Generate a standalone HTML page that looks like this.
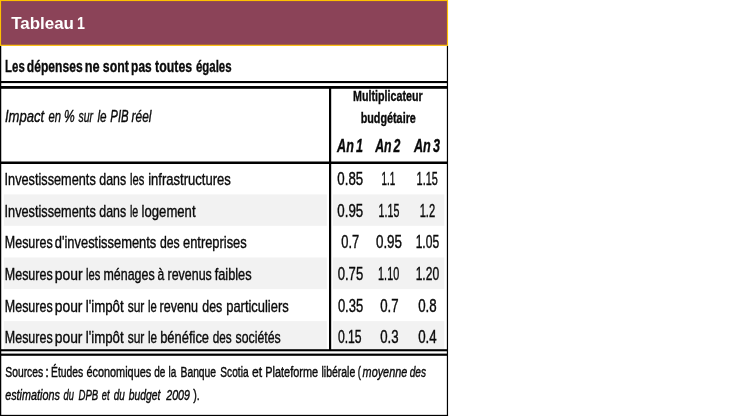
<!DOCTYPE html>
<html lang="fr"><head><meta charset="utf-8"><title>Tableau 1</title>
<style>
html,body{margin:0;padding:0;background:#fff;}
svg{display:block;}
text{font-family:"Liberation Sans",sans-serif;}
</style></head><body>
<svg width="750" height="416" viewBox="0 0 750 416">
<rect x="0" y="0" width="750" height="416" fill="#fff"/>

<rect x="3.8" y="194.4" width="323" height="31.400000000000006" fill="#f2f2f2"/>
<rect x="332.8" y="194.4" width="111.5" height="31.400000000000006" fill="#f2f2f2"/>
<rect x="3.8" y="257.5" width="323" height="31.600000000000023" fill="#f2f2f2"/>
<rect x="332.8" y="257.5" width="111.5" height="31.600000000000023" fill="#f2f2f2"/>
<rect x="3.8" y="321.1" width="323" height="28.399999999999977" fill="#f2f2f2"/>
<rect x="332.8" y="321.1" width="111.5" height="28.399999999999977" fill="#f2f2f2"/>
<rect x="0" y="45.5" width="1.25" height="371" fill="#000"/>
<rect x="446.85" y="45.5" width="1.2" height="371" fill="#000"/>
<rect x="0" y="414.85" width="448.05" height="1.15" fill="#000"/>
<rect x="0.5" y="0.5" width="447" height="44.8" fill="#8b4358" stroke="#ffc000" stroke-width="1.15"/>
<rect x="1" y="81" width="446" height="2.1" fill="#000"/>
<rect x="1" y="86.0" width="446" height="2.8" fill="#000"/>
<rect x="1" y="161.5" width="446" height="2.5" fill="#000"/>
<rect x="1" y="349.2" width="446" height="2.1" fill="#000"/>
<rect x="1" y="353.6" width="446" height="2.2" fill="#000"/>
<rect x="329" y="87" width="2.2" height="263" fill="#000"/>
<text id="title" x="11.15" y="28.7" font-size="16.3" font-weight="bold" font-style="normal" fill="#fff" stroke="#fff" stroke-width="0" word-spacing="-2" textLength="62.83" lengthAdjust="spacingAndGlyphs">Tableau</text>
<text id="title1" x="77.06" y="28.7" font-size="16.3" font-weight="bold" font-style="normal" fill="#fff" stroke="#fff" stroke-width="0" word-spacing="-2" textLength="7.89" lengthAdjust="spacingAndGlyphs">1</text>
<text id="mult" x="353.10" y="101.1" font-size="14.5" font-weight="bold" font-style="normal" fill="#0a0a0a" stroke="#0a0a0a" stroke-width="0.35" word-spacing="-2" textLength="69.50" lengthAdjust="spacingAndGlyphs">Multiplicateur</text>
<text id="budg" x="360.64" y="123.3" font-size="14.5" font-weight="bold" font-style="normal" fill="#0a0a0a" stroke="#0a0a0a" stroke-width="0.35" word-spacing="-2" textLength="55.21" lengthAdjust="spacingAndGlyphs">budgétaire</text>
<text id="an1" x="337.10" y="151.7" font-size="18.2" font-weight="bold" font-style="italic" fill="#0a0a0a" stroke="#0a0a0a" stroke-width="0.35" word-spacing="-2" textLength="25.90" lengthAdjust="spacingAndGlyphs">An 1</text>
<text id="an2" x="375.15" y="151.7" font-size="18.2" font-weight="bold" font-style="italic" fill="#0a0a0a" stroke="#0a0a0a" stroke-width="0.35" word-spacing="-2" textLength="25.31" lengthAdjust="spacingAndGlyphs">An 2</text>
<text id="an3" x="413.99" y="151.7" font-size="18.2" font-weight="bold" font-style="italic" fill="#0a0a0a" stroke="#0a0a0a" stroke-width="0.35" word-spacing="-2" textLength="26.01" lengthAdjust="spacingAndGlyphs">An 3</text>
<text id="sub_0" x="5.11" y="71.5" font-size="17" font-weight="bold" font-style="normal" fill="#0a0a0a" stroke="#0a0a0a" stroke-width="0.35" word-spacing="-2" textLength="19.61" lengthAdjust="spacingAndGlyphs">Les</text>
<text id="sub_1" x="26.85" y="71.5" font-size="17" font-weight="bold" font-style="normal" fill="#0a0a0a" stroke="#0a0a0a" stroke-width="0.35" word-spacing="-2" textLength="55.76" lengthAdjust="spacingAndGlyphs">dépenses</text>
<text id="sub_2" x="84.68" y="71.5" font-size="17" font-weight="bold" font-style="normal" fill="#0a0a0a" stroke="#0a0a0a" stroke-width="0.35" word-spacing="-2" textLength="14.94" lengthAdjust="spacingAndGlyphs">ne</text>
<text id="sub_3" x="102.84" y="71.5" font-size="17" font-weight="bold" font-style="normal" fill="#0a0a0a" stroke="#0a0a0a" stroke-width="0.35" word-spacing="-2" textLength="26.01" lengthAdjust="spacingAndGlyphs">sont</text>
<text id="sub_4" x="131.11" y="71.5" font-size="17" font-weight="bold" font-style="normal" fill="#0a0a0a" stroke="#0a0a0a" stroke-width="0.35" word-spacing="-2" textLength="20.52" lengthAdjust="spacingAndGlyphs">pas</text>
<text id="sub_5" x="155.10" y="71.5" font-size="17" font-weight="bold" font-style="normal" fill="#0a0a0a" stroke="#0a0a0a" stroke-width="0.35" word-spacing="-2" textLength="37.01" lengthAdjust="spacingAndGlyphs">toutes</text>
<text id="sub_6" x="195.94" y="71.5" font-size="17" font-weight="bold" font-style="normal" fill="#0a0a0a" stroke="#0a0a0a" stroke-width="0.35" word-spacing="-2" textLength="35.67" lengthAdjust="spacingAndGlyphs">égales</text>
<text id="imp_0" x="4.90" y="122.2" font-size="17.3" font-weight="normal" font-style="italic" fill="#0a0a0a" stroke="#0a0a0a" stroke-width="0.4" word-spacing="-1.5" textLength="39.20" lengthAdjust="spacingAndGlyphs">Impact</text>
<text id="imp_1" x="48.58" y="122.2" font-size="17.3" font-weight="normal" font-style="italic" fill="#0a0a0a" stroke="#0a0a0a" stroke-width="0.4" word-spacing="-1.5" textLength="12.54" lengthAdjust="spacingAndGlyphs">en</text>
<text id="imp_2" x="64.04" y="122.2" font-size="17.3" font-weight="normal" font-style="italic" fill="#0a0a0a" stroke="#0a0a0a" stroke-width="0.4" word-spacing="-1.5" textLength="10.70" lengthAdjust="spacingAndGlyphs">%</text>
<text id="imp_3" x="78.44" y="122.2" font-size="17.3" font-weight="normal" font-style="italic" fill="#0a0a0a" stroke="#0a0a0a" stroke-width="0.4" word-spacing="-1.5" textLength="14.57" lengthAdjust="spacingAndGlyphs">sur</text>
<text id="imp_4" x="97.50" y="122.2" font-size="17.3" font-weight="normal" font-style="italic" fill="#0a0a0a" stroke="#0a0a0a" stroke-width="0.4" word-spacing="-1.5" textLength="9.16" lengthAdjust="spacingAndGlyphs">le</text>
<text id="imp_5" x="110.29" y="122.2" font-size="17.3" font-weight="normal" font-style="italic" fill="#0a0a0a" stroke="#0a0a0a" stroke-width="0.4" word-spacing="-1.5" textLength="18.37" lengthAdjust="spacingAndGlyphs">PIB</text>
<text id="imp_6" x="131.60" y="122.2" font-size="17.3" font-weight="normal" font-style="italic" fill="#0a0a0a" stroke="#0a0a0a" stroke-width="0.4" word-spacing="-1.5" textLength="19.81" lengthAdjust="spacingAndGlyphs">réel</text>
<text id="r1_0" x="4.58" y="184.7" font-size="17" font-weight="normal" font-style="normal" fill="#0a0a0a" stroke="#0a0a0a" stroke-width="0.4" word-spacing="-1.5" textLength="91.17" lengthAdjust="spacingAndGlyphs">Investissements</text>
<text id="r1_1" x="99.34" y="184.7" font-size="17" font-weight="normal" font-style="normal" fill="#0a0a0a" stroke="#0a0a0a" stroke-width="0.4" word-spacing="-1.5" textLength="26.82" lengthAdjust="spacingAndGlyphs">dans</text>
<text id="r1_2" x="129.97" y="184.7" font-size="17" font-weight="normal" font-style="normal" fill="#0a0a0a" stroke="#0a0a0a" stroke-width="0.4" word-spacing="-1.5" textLength="14.29" lengthAdjust="spacingAndGlyphs">les</text>
<text id="r1_3" x="148.19" y="184.7" font-size="17" font-weight="normal" font-style="normal" fill="#0a0a0a" stroke="#0a0a0a" stroke-width="0.4" word-spacing="-1.5" textLength="82.61" lengthAdjust="spacingAndGlyphs">infrastructures</text>
<text id="r2_0" x="4.58" y="216.7" font-size="17" font-weight="normal" font-style="normal" fill="#0a0a0a" stroke="#0a0a0a" stroke-width="0.4" word-spacing="-1.5" textLength="91.17" lengthAdjust="spacingAndGlyphs">Investissements</text>
<text id="r2_1" x="99.34" y="216.7" font-size="17" font-weight="normal" font-style="normal" fill="#0a0a0a" stroke="#0a0a0a" stroke-width="0.4" word-spacing="-1.5" textLength="26.82" lengthAdjust="spacingAndGlyphs">dans</text>
<text id="r2_2" x="129.94" y="216.7" font-size="17" font-weight="normal" font-style="normal" fill="#0a0a0a" stroke="#0a0a0a" stroke-width="0.4" word-spacing="-1.5" textLength="8.33" lengthAdjust="spacingAndGlyphs">le</text>
<text id="r2_3" x="141.59" y="216.7" font-size="17" font-weight="normal" font-style="normal" fill="#0a0a0a" stroke="#0a0a0a" stroke-width="0.4" word-spacing="-1.5" textLength="53.96" lengthAdjust="spacingAndGlyphs">logement</text>
<text id="r3_0" x="4.83" y="247.8" font-size="17" font-weight="normal" font-style="normal" fill="#0a0a0a" stroke="#0a0a0a" stroke-width="0.4" word-spacing="-1.5" textLength="47.78" lengthAdjust="spacingAndGlyphs">Mesures</text>
<text id="r3_1" x="54.80" y="247.8" font-size="17" font-weight="normal" font-style="normal" fill="#0a0a0a" stroke="#0a0a0a" stroke-width="0.4" word-spacing="-1.5" textLength="101.50" lengthAdjust="spacingAndGlyphs">d&#39;investissements</text>
<text id="r3_2" x="159.88" y="247.8" font-size="17" font-weight="normal" font-style="normal" fill="#0a0a0a" stroke="#0a0a0a" stroke-width="0.4" word-spacing="-1.5" textLength="19.73" lengthAdjust="spacingAndGlyphs">des</text>
<text id="r3_3" x="182.99" y="247.8" font-size="17" font-weight="normal" font-style="normal" fill="#0a0a0a" stroke="#0a0a0a" stroke-width="0.4" word-spacing="-1.5" textLength="63.71" lengthAdjust="spacingAndGlyphs">entreprises</text>
<text id="r4_0" x="4.83" y="279.5" font-size="17" font-weight="normal" font-style="normal" fill="#0a0a0a" stroke="#0a0a0a" stroke-width="0.4" word-spacing="-1.5" textLength="47.78" lengthAdjust="spacingAndGlyphs">Mesures</text>
<text id="r4_1" x="54.73" y="279.5" font-size="17" font-weight="normal" font-style="normal" fill="#0a0a0a" stroke="#0a0a0a" stroke-width="0.4" word-spacing="-1.5" textLength="27.82" lengthAdjust="spacingAndGlyphs">pour</text>
<text id="r4_2" x="86.07" y="279.5" font-size="17" font-weight="normal" font-style="normal" fill="#0a0a0a" stroke="#0a0a0a" stroke-width="0.4" word-spacing="-1.5" textLength="14.26" lengthAdjust="spacingAndGlyphs">les</text>
<text id="r4_3" x="103.54" y="279.5" font-size="17" font-weight="normal" font-style="normal" fill="#0a0a0a" stroke="#0a0a0a" stroke-width="0.4" word-spacing="-1.5" textLength="51.07" lengthAdjust="spacingAndGlyphs">ménages</text>
<text id="r4_4" x="157.44" y="279.5" font-size="17" font-weight="normal" font-style="normal" fill="#0a0a0a" stroke="#0a0a0a" stroke-width="0.4" word-spacing="-1.5" textLength="6.76" lengthAdjust="spacingAndGlyphs">à</text>
<text id="r4_5" x="167.54" y="279.5" font-size="17" font-weight="normal" font-style="normal" fill="#0a0a0a" stroke="#0a0a0a" stroke-width="0.4" word-spacing="-1.5" textLength="44.27" lengthAdjust="spacingAndGlyphs">revenus</text>
<text id="r4_6" x="214.65" y="279.5" font-size="17" font-weight="normal" font-style="normal" fill="#0a0a0a" stroke="#0a0a0a" stroke-width="0.4" word-spacing="-1.5" textLength="36.96" lengthAdjust="spacingAndGlyphs">faibles</text>
<text id="r5_0" x="4.83" y="311.5" font-size="17" font-weight="normal" font-style="normal" fill="#0a0a0a" stroke="#0a0a0a" stroke-width="0.4" word-spacing="-1.5" textLength="47.78" lengthAdjust="spacingAndGlyphs">Mesures</text>
<text id="r5_1" x="54.78" y="311.5" font-size="17" font-weight="normal" font-style="normal" fill="#0a0a0a" stroke="#0a0a0a" stroke-width="0.4" word-spacing="-1.5" textLength="27.72" lengthAdjust="spacingAndGlyphs">pour</text>
<text id="r5_2" x="85.74" y="311.5" font-size="17" font-weight="normal" font-style="normal" fill="#0a0a0a" stroke="#0a0a0a" stroke-width="0.4" word-spacing="-1.5" textLength="37.91" lengthAdjust="spacingAndGlyphs">l&#39;impôt</text>
<text id="r5_3" x="127.65" y="311.5" font-size="17" font-weight="normal" font-style="normal" fill="#0a0a0a" stroke="#0a0a0a" stroke-width="0.4" word-spacing="-1.5" textLength="16.70" lengthAdjust="spacingAndGlyphs">sur</text>
<text id="r5_4" x="147.94" y="311.5" font-size="17" font-weight="normal" font-style="normal" fill="#0a0a0a" stroke="#0a0a0a" stroke-width="0.4" word-spacing="-1.5" textLength="8.80" lengthAdjust="spacingAndGlyphs">le</text>
<text id="r5_5" x="159.53" y="311.5" font-size="17" font-weight="normal" font-style="normal" fill="#0a0a0a" stroke="#0a0a0a" stroke-width="0.4" word-spacing="-1.5" textLength="38.44" lengthAdjust="spacingAndGlyphs">revenu</text>
<text id="r5_6" x="202.29" y="311.5" font-size="17" font-weight="normal" font-style="normal" fill="#0a0a0a" stroke="#0a0a0a" stroke-width="0.4" word-spacing="-1.5" textLength="19.97" lengthAdjust="spacingAndGlyphs">des</text>
<text id="r5_7" x="226.24" y="311.5" font-size="17" font-weight="normal" font-style="normal" fill="#0a0a0a" stroke="#0a0a0a" stroke-width="0.4" word-spacing="-1.5" textLength="62.42" lengthAdjust="spacingAndGlyphs">particuliers</text>
<text id="r6_0" x="4.83" y="342.5" font-size="17" font-weight="normal" font-style="normal" fill="#0a0a0a" stroke="#0a0a0a" stroke-width="0.4" word-spacing="-1.5" textLength="47.78" lengthAdjust="spacingAndGlyphs">Mesures</text>
<text id="r6_1" x="54.78" y="342.5" font-size="17" font-weight="normal" font-style="normal" fill="#0a0a0a" stroke="#0a0a0a" stroke-width="0.4" word-spacing="-1.5" textLength="27.72" lengthAdjust="spacingAndGlyphs">pour</text>
<text id="r6_2" x="85.74" y="342.5" font-size="17" font-weight="normal" font-style="normal" fill="#0a0a0a" stroke="#0a0a0a" stroke-width="0.4" word-spacing="-1.5" textLength="37.91" lengthAdjust="spacingAndGlyphs">l&#39;impôt</text>
<text id="r6_3" x="127.65" y="342.5" font-size="17" font-weight="normal" font-style="normal" fill="#0a0a0a" stroke="#0a0a0a" stroke-width="0.4" word-spacing="-1.5" textLength="16.70" lengthAdjust="spacingAndGlyphs">sur</text>
<text id="r6_4" x="147.93" y="342.5" font-size="17" font-weight="normal" font-style="normal" fill="#0a0a0a" stroke="#0a0a0a" stroke-width="0.4" word-spacing="-1.5" textLength="9.16" lengthAdjust="spacingAndGlyphs">le</text>
<text id="r6_5" x="160.18" y="342.5" font-size="17" font-weight="normal" font-style="normal" fill="#0a0a0a" stroke="#0a0a0a" stroke-width="0.4" word-spacing="-1.5" textLength="48.87" lengthAdjust="spacingAndGlyphs">bénéfice</text>
<text id="r6_6" x="212.74" y="342.5" font-size="17" font-weight="normal" font-style="normal" fill="#0a0a0a" stroke="#0a0a0a" stroke-width="0.4" word-spacing="-1.5" textLength="18.97" lengthAdjust="spacingAndGlyphs">des</text>
<text id="r6_7" x="235.60" y="342.5" font-size="17" font-weight="normal" font-style="normal" fill="#0a0a0a" stroke="#0a0a0a" stroke-width="0.4" word-spacing="-1.5" textLength="45.15" lengthAdjust="spacingAndGlyphs">sociétés</text>
<text id="s1_0" x="5.29" y="377" font-size="14" font-weight="normal" font-style="normal" fill="#0a0a0a" stroke="#0a0a0a" stroke-width="0.4" word-spacing="-1.5" textLength="37.91" lengthAdjust="spacingAndGlyphs">Sources</text>
<text id="s1_1" x="45.28" y="377" font-size="14" font-weight="normal" font-style="normal" fill="#0a0a0a" stroke="#0a0a0a" stroke-width="0.4" word-spacing="-1.5" textLength="3.60" lengthAdjust="spacingAndGlyphs">:</text>
<text id="s1_2" x="51.08" y="377" font-size="14" font-weight="normal" font-style="normal" fill="#0a0a0a" stroke="#0a0a0a" stroke-width="0.4" word-spacing="-1.5" textLength="32.12" lengthAdjust="spacingAndGlyphs">Études</text>
<text id="s1_3" x="86.40" y="377" font-size="14" font-weight="normal" font-style="normal" fill="#0a0a0a" stroke="#0a0a0a" stroke-width="0.4" word-spacing="-1.5" textLength="64.81" lengthAdjust="spacingAndGlyphs">économiques</text>
<text id="s1_4" x="154.18" y="377" font-size="14" font-weight="normal" font-style="normal" fill="#0a0a0a" stroke="#0a0a0a" stroke-width="0.4" word-spacing="-1.5" textLength="11.08" lengthAdjust="spacingAndGlyphs">de</text>
<text id="s1_5" x="168.48" y="377" font-size="14" font-weight="normal" font-style="normal" fill="#0a0a0a" stroke="#0a0a0a" stroke-width="0.4" word-spacing="-1.5" textLength="7.76" lengthAdjust="spacingAndGlyphs">la</text>
<text id="s1_6" x="180.53" y="377" font-size="14" font-weight="normal" font-style="normal" fill="#0a0a0a" stroke="#0a0a0a" stroke-width="0.4" word-spacing="-1.5" textLength="35.57" lengthAdjust="spacingAndGlyphs">Banque</text>
<text id="s1_7" x="220.35" y="377" font-size="14" font-weight="normal" font-style="normal" fill="#0a0a0a" stroke="#0a0a0a" stroke-width="0.4" word-spacing="-1.5" textLength="28.20" lengthAdjust="spacingAndGlyphs">Scotia</text>
<text id="s1_8" x="251.93" y="377" font-size="14" font-weight="normal" font-style="normal" fill="#0a0a0a" stroke="#0a0a0a" stroke-width="0.4" word-spacing="-1.5" textLength="10.11" lengthAdjust="spacingAndGlyphs">et</text>
<text id="s1_9" x="265.28" y="377" font-size="14" font-weight="normal" font-style="normal" fill="#0a0a0a" stroke="#0a0a0a" stroke-width="0.4" word-spacing="-1.5" textLength="52.83" lengthAdjust="spacingAndGlyphs">Plateforme</text>
<text id="s1_10" x="321.49" y="377" font-size="14" font-weight="normal" font-style="normal" fill="#0a0a0a" stroke="#0a0a0a" stroke-width="0.4" word-spacing="-1.5" textLength="33.77" lengthAdjust="spacingAndGlyphs">libérale</text>
<text id="s1_11" x="357.82" y="377" font-size="14" font-weight="normal" font-style="normal" fill="#0a0a0a" stroke="#0a0a0a" stroke-width="0.4" word-spacing="-1.5" textLength="3.18" lengthAdjust="spacingAndGlyphs">(</text>
<text id="s1i_0" x="362.60" y="377" font-size="14" font-weight="normal" font-style="italic" fill="#0a0a0a" stroke="#0a0a0a" stroke-width="0.4" word-spacing="-1.5" textLength="44.65" lengthAdjust="spacingAndGlyphs">moyenne</text>
<text id="s1i_1" x="409.70" y="377" font-size="14" font-weight="normal" font-style="italic" fill="#0a0a0a" stroke="#0a0a0a" stroke-width="0.4" word-spacing="-1.5" textLength="16.30" lengthAdjust="spacingAndGlyphs">des</text>
<text id="s2i_0" x="5.15" y="400.3" font-size="14" font-weight="normal" font-style="italic" fill="#0a0a0a" stroke="#0a0a0a" stroke-width="0.4" word-spacing="-1.5" textLength="54.70" lengthAdjust="spacingAndGlyphs">estimations</text>
<text id="s2i_1" x="63.60" y="400.3" font-size="14" font-weight="normal" font-style="italic" fill="#0a0a0a" stroke="#0a0a0a" stroke-width="0.4" word-spacing="-1.5" textLength="10.40" lengthAdjust="spacingAndGlyphs">du</text>
<text id="s2i_2" x="78.60" y="400.3" font-size="14" font-weight="normal" font-style="italic" fill="#0a0a0a" stroke="#0a0a0a" stroke-width="0.4" word-spacing="-1.5" textLength="19.66" lengthAdjust="spacingAndGlyphs">DPB</text>
<text id="s2i_3" x="101.76" y="400.3" font-size="14" font-weight="normal" font-style="italic" fill="#0a0a0a" stroke="#0a0a0a" stroke-width="0.4" word-spacing="-1.5" textLength="7.76" lengthAdjust="spacingAndGlyphs">et</text>
<text id="s2i_4" x="113.74" y="400.3" font-size="14" font-weight="normal" font-style="italic" fill="#0a0a0a" stroke="#0a0a0a" stroke-width="0.4" word-spacing="-1.5" textLength="11.11" lengthAdjust="spacingAndGlyphs">du</text>
<text id="s2i_5" x="128.85" y="400.3" font-size="14" font-weight="normal" font-style="italic" fill="#0a0a0a" stroke="#0a0a0a" stroke-width="0.4" word-spacing="-1.5" textLength="31.66" lengthAdjust="spacingAndGlyphs">budget</text>
<text id="s2i_6" x="166.25" y="400.3" font-size="14" font-weight="normal" font-style="italic" fill="#0a0a0a" stroke="#0a0a0a" stroke-width="0.4" word-spacing="-1.5" textLength="23.75" lengthAdjust="spacingAndGlyphs">2009</text>
<text id="s2_0" x="193.27" y="400.3" font-size="14" font-weight="normal" font-style="normal" fill="#0a0a0a" stroke="#0a0a0a" stroke-width="0.4" word-spacing="-1.5" textLength="6.55" lengthAdjust="spacingAndGlyphs">).</text>
<text id="n00" x="337.34" y="185" font-size="17.6" font-weight="normal" font-style="normal" fill="#0a0a0a" stroke="#0a0a0a" stroke-width="0.4" word-spacing="-1.5" textLength="25.82" lengthAdjust="spacingAndGlyphs">0.85</text>
<text id="n01" x="381.46" y="185" font-size="17.6" font-weight="normal" font-style="normal" fill="#0a0a0a" stroke="#0a0a0a" stroke-width="0.4" word-spacing="-1.5" textLength="13.71" lengthAdjust="spacingAndGlyphs">1.1</text>
<text id="n02" x="416.58" y="185" font-size="17.6" font-weight="normal" font-style="normal" fill="#0a0a0a" stroke="#0a0a0a" stroke-width="0.4" word-spacing="-1.5" textLength="21.19" lengthAdjust="spacingAndGlyphs">1.15</text>
<text id="n10" x="337.34" y="216.7" font-size="17.6" font-weight="normal" font-style="normal" fill="#0a0a0a" stroke="#0a0a0a" stroke-width="0.4" word-spacing="-1.5" textLength="25.82" lengthAdjust="spacingAndGlyphs">0.95</text>
<text id="n11" x="378.62" y="216.7" font-size="17.6" font-weight="normal" font-style="normal" fill="#0a0a0a" stroke="#0a0a0a" stroke-width="0.4" word-spacing="-1.5" textLength="20.70" lengthAdjust="spacingAndGlyphs">1.15</text>
<text id="n12" x="419.65" y="216.7" font-size="17.6" font-weight="normal" font-style="normal" fill="#0a0a0a" stroke="#0a0a0a" stroke-width="0.4" word-spacing="-1.5" textLength="15.54" lengthAdjust="spacingAndGlyphs">1.2</text>
<text id="n20" x="341.24" y="247.8" font-size="17.6" font-weight="normal" font-style="normal" fill="#0a0a0a" stroke="#0a0a0a" stroke-width="0.4" word-spacing="-1.5" textLength="17.93" lengthAdjust="spacingAndGlyphs">0.7</text>
<text id="n21" x="375.94" y="247.8" font-size="17.6" font-weight="normal" font-style="normal" fill="#0a0a0a" stroke="#0a0a0a" stroke-width="0.4" word-spacing="-1.5" textLength="26.08" lengthAdjust="spacingAndGlyphs">0.95</text>
<text id="n22" x="415.67" y="247.8" font-size="17.6" font-weight="normal" font-style="normal" fill="#0a0a0a" stroke="#0a0a0a" stroke-width="0.4" word-spacing="-1.5" textLength="23.50" lengthAdjust="spacingAndGlyphs">1.05</text>
<text id="n30" x="337.74" y="279.5" font-size="17.6" font-weight="normal" font-style="normal" fill="#0a0a0a" stroke="#0a0a0a" stroke-width="0.4" word-spacing="-1.5" textLength="25.41" lengthAdjust="spacingAndGlyphs">0.75</text>
<text id="n31" x="378.11" y="279.5" font-size="17.6" font-weight="normal" font-style="normal" fill="#0a0a0a" stroke="#0a0a0a" stroke-width="0.4" word-spacing="-1.5" textLength="21.05" lengthAdjust="spacingAndGlyphs">1.10</text>
<text id="n32" x="415.67" y="279.5" font-size="17.6" font-weight="normal" font-style="normal" fill="#0a0a0a" stroke="#0a0a0a" stroke-width="0.4" word-spacing="-1.5" textLength="23.50" lengthAdjust="spacingAndGlyphs">1.20</text>
<text id="n40" x="337.89" y="311.5" font-size="17.6" font-weight="normal" font-style="normal" fill="#0a0a0a" stroke="#0a0a0a" stroke-width="0.4" word-spacing="-1.5" textLength="25.27" lengthAdjust="spacingAndGlyphs">0.35</text>
<text id="n41" x="380.18" y="311.5" font-size="17.6" font-weight="normal" font-style="normal" fill="#0a0a0a" stroke="#0a0a0a" stroke-width="0.4" word-spacing="-1.5" textLength="18.34" lengthAdjust="spacingAndGlyphs">0.7</text>
<text id="n42" x="418.24" y="311.5" font-size="17.6" font-weight="normal" font-style="normal" fill="#0a0a0a" stroke="#0a0a0a" stroke-width="0.4" word-spacing="-1.5" textLength="18.47" lengthAdjust="spacingAndGlyphs">0.8</text>
<text id="n50" x="337.88" y="342.5" font-size="17.6" font-weight="normal" font-style="normal" fill="#0a0a0a" stroke="#0a0a0a" stroke-width="0.4" word-spacing="-1.5" textLength="23.73" lengthAdjust="spacingAndGlyphs">0.15</text>
<text id="n51" x="380.18" y="342.5" font-size="17.6" font-weight="normal" font-style="normal" fill="#0a0a0a" stroke="#0a0a0a" stroke-width="0.4" word-spacing="-1.5" textLength="18.34" lengthAdjust="spacingAndGlyphs">0.3</text>
<text id="n52" x="418.24" y="342.5" font-size="17.6" font-weight="normal" font-style="normal" fill="#0a0a0a" stroke="#0a0a0a" stroke-width="0.4" word-spacing="-1.5" textLength="18.46" lengthAdjust="spacingAndGlyphs">0.4</text>
</svg>
</body></html>
